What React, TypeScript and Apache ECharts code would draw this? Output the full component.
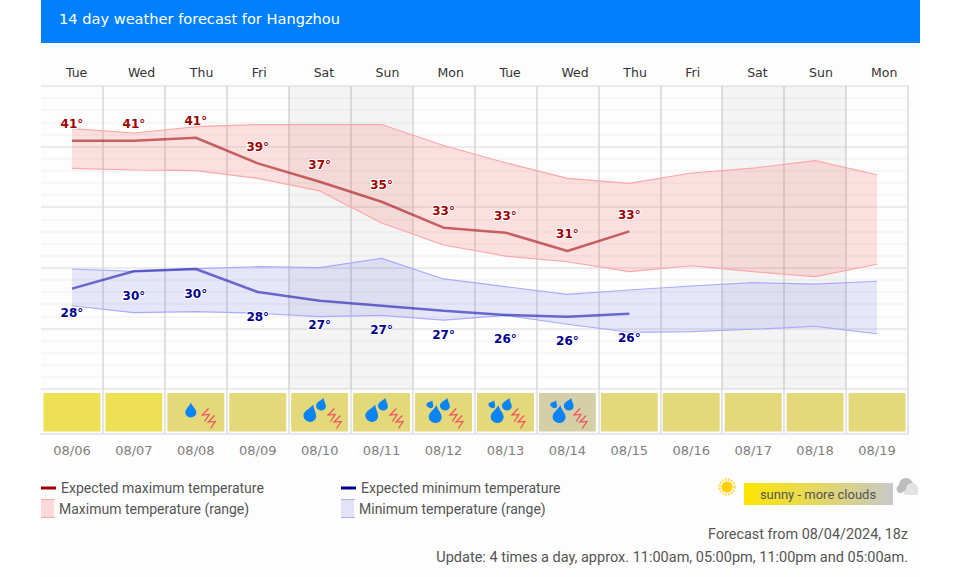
import React, { useEffect, useRef } from "react";
import * as echarts from "echarts";

const weekdays = ["Tue", "Wed", "Thu", "Fri", "Sat", "Sun", "Mon", "Tue", "Wed", "Thu", "Fri", "Sat", "Sun", "Mon"];
const dates = ["08/06", "08/07", "08/08", "08/09", "08/10", "08/11", "08/12", "08/13", "08/14", "08/15", "08/16", "08/17", "08/18", "08/19"];
const weekend = [null, null, null, null, 45, 45, null, null, null, null, null, 45, 45, null];

const maxExpected = [40.49, 40.49, 40.73, 38.62, 37.1, 35.45, 33.31, 32.9, 31.39, 33.01, null, null, null, null];
const maxExpectedLabels = ["41°", "41°", "41°", "39°", "37°", "35°", "33°", "33°", "31°", "33°"];
const maxRangeHigh = [41.49, 41.12, 41.64, 41.81, 41.82, 41.82, 40.09, 38.67, 37.38, 36.97, 37.82, 38.23, 38.84, 37.68];
const maxRangeLow = [38.21, 38.07, 38.01, 37.38, 36.34, 33.7, 31.88, 30.97, 30.5, 29.68, 30.17, 29.68, 29.27, 30.29];

const minExpected = [28.28, 29.71, 29.9, 28.0, 27.29, 26.87, 26.46, 26.11, 25.97, 26.21, null, null, null, null];
const minExpectedLabels = ["28°", "30°", "30°", "28°", "27°", "27°", "27°", "26°", "26°", "26°"];
const minRangeHigh = [29.9, 29.71, 29.93, 30.09, 30.01, 30.78, 29.08, 28.44, 27.81, 28.17, 28.5, 28.77, 28.66, 28.89];
const minRangeLow = [26.87, 26.3, 26.38, 26.25, 25.97, 26.08, 25.69, 26.08, 25.34, 24.68, 24.73, 24.93, 25.17, 24.56];

const cellColors = ["#eee055", "#eee055", "#e3d87a", "#e3d87a", "#e3d87a", "#e3d87a", "#e3d87a", "#e3d87a", "#d4cfa6", "#e3d87a", "#e3d87a", "#e3d87a", "#e3d87a", "#e3d87a"];
const dropCounts = [0, 0, 1, 0, 2, 2, 3, 3, 3, 0, 0, 0, 0, 0];

const DROP = "M5 0C6 3.5 10 6 10 9.4A5 4.6 0 0 1 0 9.4C0 6 4 3.5 5 0Z";
const BOLT = "M4.5 0L0.5 5.5L5 5L2 11";
const dropLayouts: number[][][] = [
  [],
  [[-5, -2, 11, 15, 0]],
  [[-9, 1, 13, 18, -0.3], [2, -8, 10, 13, -0.3]],
  [[-8, 2, 13, 18, -0.1], [-13, -8, 7, 8, -0.5], [2, -8, 10, 13, -0.3]],
];

const FONT_LABEL = "DejaVu Sans";
const FONT_UI = "Roboto";
const RED = "#a00000";
const BLUE = "#00008c";

const renderCell = (params: any, api: any) => {
  const i = api.value(0);
  const sys = params.coordSys;
  const cx = api.coord([i, 0.5])[0];
  const cy = sys.y + 23;
  const w = api.size([1, 0])[0] - 5;
  const n = dropCounts[i];
  const children: any[] = [
    { type: "rect", shape: { x: cx - w / 2, y: sys.y + 4, width: w, height: 38.5, r: 1 }, style: { fill: cellColors[i] } },
  ];
  dropLayouts[n].forEach((d) => {
    children.push({
      type: "path",
      x: cx + d[0],
      y: cy + d[1],
      rotation: d[4],
      shape: { pathData: DROP, x: -d[2] / 2, y: -d[3] / 2, width: d[2], height: d[3], layout: "cover" },
      style: { fill: "#0a84f5" },
    });
  });
  if (n > 0) {
    const dx = n === 2 ? 2 : 0;
    [[10 + dx, 3], [16 + dx, 10]].forEach((b) => {
      children.push({
        type: "path",
        shape: { pathData: BOLT, x: cx + b[0] - 3.5, y: cy + b[1] - 6.5, width: 7, height: 13, layout: "cover" },
        style: { fill: "none", stroke: "#f0505f", lineWidth: 1.2 },
      });
    });
  }
  return { type: "group", children };
};

const expectedSeries = (name: string, values: any[], labels: string[], stroke: string, color: string, position: string, distance: number) => ({
  name,
  type: "line",
  data: values,
  z: 6,
  symbol: "circle",
  symbolSize: 1,
  showSymbol: true,
  showAllSymbol: true,
  itemStyle: { color: "rgba(0,0,0,0)" },
  lineStyle: { color: stroke, width: 2.5 },
  label: {
    show: true,
    position,
    distance,
    formatter: (p: any) => labels[p.dataIndex] ?? "",
    color,
    fontFamily: FONT_LABEL,
    fontSize: 12,
    fontWeight: "bold",
    textBorderColor: "#fff",
    textBorderWidth: 2,
  },
});

const rangeSeries = (name: string, low: number[], high: number[], edge: string, fill: string, stack: string) => [
  {
    name: name + " low",
    type: "line",
    stack,
    data: low,
    symbol: "none",
    z: 3,
    lineStyle: { color: edge, width: 1.2 },
  },
  {
    name,
    type: "line",
    stack,
    data: high.map((v, i) => +(v - low[i]).toFixed(2)),
    symbol: "none",
    z: 3,
    lineStyle: { color: edge, width: 1.2 },
    areaStyle: { color: fill, opacity: 1 },
  },
];

const legendText = { color: "#555", fontFamily: FONT_UI, fontSize: 14 };
const legendOf = (name: string, left: number, top: number, iw: number, ih: number, color: string) => ({
  show: true,
  left,
  top,
  padding: 0,
  itemWidth: iw,
  itemHeight: ih,
  selectedMode: false,
  textStyle: legendText,
  data: [{ name, icon: "rect", itemStyle: { color, borderWidth: 0 } }],
});

const swatchEdge = (x: number, y: number, color: string) => ({
  type: "line",
  z: 10,
  shape: { x1: x, y1: y, x2: x + 14, y2: y },
  style: { stroke: color, lineWidth: 1 },
});

export default function App() {
  const ref = useRef<HTMLDivElement>(null);
  useEffect(() => {
    const chart = echarts.init(ref.current!, undefined, { renderer: "svg" });
    const split = { show: true, lineStyle: { color: "#d6d6d6", width: 1.5 }, showMinLine: false };
    chart.setOption({
      animation: false,
      backgroundColor: "#ffffff",
      title: {
        text: "14 day weather forecast for Hangzhou",
        left: 59,
        top: 11,
        padding: 0,
        textStyle: { color: "#fff", fontFamily: FONT_LABEL, fontSize: 14.6, fontWeight: "normal" },
      },
      legend: [
        legendOf("Expected maximum temperature", 41, 481, 15, 3, RED),
        legendOf("Maximum temperature (range)", 41, 499, 13, 19, "#fbd9d9"),
        legendOf("Expected minimum temperature", 341, 481, 15, 3, BLUE),
        legendOf("Minimum temperature (range)", 341, 499, 13, 19, "#e2e2f8"),
      ],
      grid: [
        { left: 41, right: 52, top: 86, height: 303 },
        { left: 41, right: 52, top: 389, height: 45 },
        { left: 35, right: 58, top: 86, height: 303 },
      ],
      xAxis: [
        {
          type: "category",
          gridIndex: 0,
          position: "top",
          data: weekdays,
          axisLine: { show: false },
          axisTick: { show: false },
          axisLabel: { show: false },
          splitLine: split,
        },
        {
          type: "category",
          gridIndex: 1,
          position: "bottom",
          data: dates,
          axisLine: { show: true, lineStyle: { color: "#e4e8f0", width: 2 } },
          axisTick: { show: false },
          axisLabel: { color: "#808080", fontFamily: FONT_LABEL, fontSize: 13, margin: 10, interval: 0 },
          splitLine: { show: true, lineStyle: { color: "#dcdcdc", width: 1.5 }, showMinLine: false },
        },
        {
          type: "category",
          gridIndex: 2,
          position: "top",
          data: weekdays,
          axisLine: { show: false },
          axisTick: { show: false },
          axisLabel: { color: "#333", fontFamily: FONT_LABEL, fontSize: 12.5, margin: 7, align: "left", interval: 0 },
          splitLine: { show: false },
        },
      ],
      yAxis: [
        {
          type: "value",
          gridIndex: 0,
          position: "right",
          min: 20,
          max: 45,
          interval: 5,
          axisLine: { show: true, lineStyle: { color: "#e2e2e2", width: 2 } },
          axisTick: { show: false },
          axisLabel: { show: false },
          splitLine: { show: true, lineStyle: { color: "#ebebeb", width: 2 } },
          minorTick: { show: false, splitNumber: 5 },
          minorSplitLine: { show: true, lineStyle: { color: "#f6f6f6", width: 2 } },
        },
        {
          type: "value",
          gridIndex: 1,
          position: "right",
          min: 0,
          max: 1,
          axisLine: { show: true, lineStyle: { color: "#e2e2e2", width: 2 } },
          axisTick: { show: false },
          axisLabel: { show: false },
          splitLine: { show: false },
        },
        {
          type: "value",
          gridIndex: 2,
          min: 0,
          max: 1,
          axisLine: { show: false },
          axisTick: { show: false },
          axisLabel: { show: false },
          splitLine: { show: false },
        },
      ],
      series: [
        {
          name: "weekend",
          type: "bar",
          data: weekend,
          barWidth: "100%",
          z: 1,
          itemStyle: { color: "rgba(0,0,0,0.035)" },
          silent: true,
        },
        ...rangeSeries("Maximum temperature (range)", maxRangeLow, maxRangeHigh, "#ffa6a6", "rgba(250,90,90,0.18)", "max"),
        ...rangeSeries("Minimum temperature (range)", minRangeLow, minRangeHigh, "#aaaaff", "rgba(90,90,235,0.14)", "min"),
        expectedSeries("Expected maximum temperature", maxExpected, maxExpectedLabels, "rgba(165,20,20,0.62)", RED, "top", 10),
        expectedSeries("Expected minimum temperature", minExpected, minExpectedLabels, "rgba(20,20,170,0.6)", BLUE, "bottom", 18),
        {
          name: "conditions",
          type: "custom",
          xAxisIndex: 1,
          yAxisIndex: 1,
          data: cellColors.map((_, i) => [i, 0.5]),
          renderItem: renderCell,
          silent: true,
          z: 4,
        },
      ],
      graphic: [
        { type: "rect", z: -2, shape: { x: 41, y: 0, width: 879, height: 577 }, style: { fill: "#fdfdfd" } },
        { type: "rect", z: -1, shape: { x: 41, y: 0, width: 879, height: 43 }, style: { fill: "#0080ff" } },
        swatchEdge(41, 499.5, "#ffa6a6"),
        swatchEdge(41, 517.5, "#ffa6a6"),
        swatchEdge(341, 499.5, "#aaaaff"),
        swatchEdge(341, 517.5, "#aaaaff"),
        { type: "circle", z: 10, shape: { cx: 727, cy: 487, r: 5.5 }, style: { fill: "#ffcf00" } },
        { type: "circle", z: 10, shape: { cx: 727, cy: 487, r: 7.5 }, style: { fill: "none", stroke: "#ffd84a", lineWidth: 2.5, lineDash: [1.6, 1.4] } },
        {
          type: "rect",
          z: 10,
          shape: { x: 744, y: 483, width: 149, height: 22 },
          style: {
            fill: new echarts.graphic.LinearGradient(0, 0, 1, 0, [
              { offset: 0, color: "#ffe600" },
              { offset: 1, color: "#c8c8c8" },
            ]),
          },
        },
        {
          type: "text",
          z: 11,
          style: { x: 818, y: 494, text: "sunny - more clouds", fill: "#555", font: `13px ${FONT_UI}`, textAlign: "center", textVerticalAlign: "middle" },
        },
        { type: "circle", z: 10, shape: { cx: 906, cy: 485, r: 7 }, style: { fill: "#bdbdbd" } },
        { type: "circle", z: 10, shape: { cx: 900.5, cy: 489, r: 4 }, style: { fill: "#bdbdbd" } },
        { type: "circle", z: 11, shape: { cx: 912, cy: 489, r: 6 }, style: { fill: "#e2e2e2" } },
        { type: "rect", z: 11, shape: { x: 904, y: 490, width: 14, height: 5, r: 2 }, style: { fill: "#e2e2e2" } },
        {
          type: "text",
          z: 10,
          style: { x: 908, y: 534, text: "Forecast from 08/04/2024, 18z", fill: "#555", font: `14.4px ${FONT_UI}`, textAlign: "right", textVerticalAlign: "middle" },
        },
        {
          type: "text",
          z: 10,
          style: { x: 908, y: 557, text: "Update: 4 times a day, approx. 11:00am, 05:00pm, 11:00pm and 05:00am.", fill: "#555", font: `14.5px ${FONT_UI}`, textAlign: "right", textVerticalAlign: "middle" },
        },
      ],
    });
    return () => chart.dispose();
  }, []);
  return <div ref={ref} style={{ position: "absolute", left: 0, top: 0, width: 960, height: 577 }} />;
}
